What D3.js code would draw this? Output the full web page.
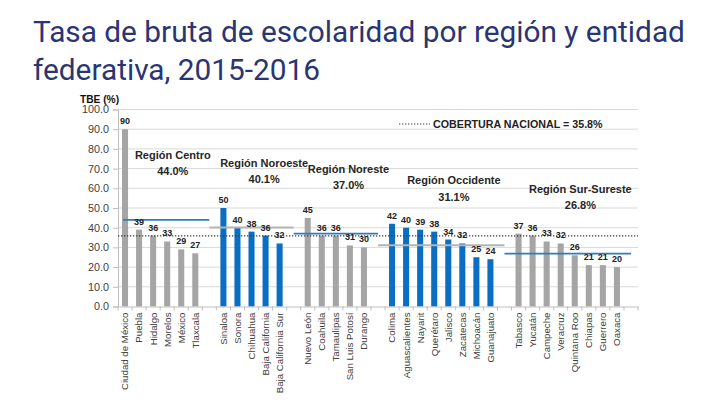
<!DOCTYPE html>
<html>
<head>
<meta charset="utf-8">
<script src="https://cdn.jsdelivr.net/npm/d3@7"></script>
<style>
  html, body { margin: 0; padding: 0; background: #fff; }
  svg { display: block; }
</style>
</head>
<body>
<svg id="chart" width="720" height="405"></svg>
<script>
// ---------- DATA ----------
const titleLines = ["Tasa de bruta de escolaridad por región y entidad", "federativa, 2015-2016"];
const regionNames = ["Región Centro", "Región Noroeste", "Región Noreste", "Región Occidente", "Región Sur-Sureste"];
const regionAverages = [44.0, 40.1, 37.0, 31.1, 26.8];
const regionStates = [
  ["Ciudad de México", "Puebla", "Hidalgo", "Morelos", "México", "Tlaxcala"],
  ["Sinaloa", "Sonora", "Chihuahua", "Baja California", "Baja California Sur"],
  ["Nuevo León", "Coahuila", "Tamaulipas", "San Luis Potosí", "Durango"],
  ["Colima", "Aguascalientes", "Nayarit", "Querétaro", "Jalisco", "Zacatecas", "Michoacán", "Guanajuato"],
  ["Tabasco", "Yucatán", "Campeche", "Veracruz", "Quintana Roo", "Chiapas", "Guerrero", "Oaxaca"]
];
const regionValues = [
  [90, 39, 36, 33, 29, 27],
  [50, 40, 38, 36, 32],
  [45, 36, 36, 31, 30],
  [42, 40, 39, 38, 34, 32, 25, 24],
  [37, 36, 33, 32, 26, 21, 21, 20]
];
const nationalValue = 35.8;
const nationalLabel = "COBERTURA NACIONAL = 35.8%";
const yTicks = [0, 10, 20, 30, 40, 50, 60, 70, 80, 90, 100];
const yAxisTitle = "TBE (%)";

// ---------- STYLE ----------
const GRAY = "#a5a5a5";
const BLUE = "#0a6fc2";
const LINE_BLUE = "#2f7bc4";
const LINE_GRAY = "#b4b4b4";
const barColors = [GRAY, BLUE, GRAY, BLUE, GRAY];
const avgColors = [LINE_BLUE, LINE_GRAY, LINE_BLUE, LINE_GRAY, LINE_BLUE];

const svg = d3.select("#chart");

// Title
svg.append("g").selectAll("text").data(titleLines).join("text")
  .attr("x", 33)
  .attr("y", (d, i) => 42 + i * 38)
  .attr("font-family", "Roboto, sans-serif")
  .attr("font-size", 29.8)
  .attr("fill", "#2a3573")
  .text(d => d);

// Build slots (with gap slots between regions and one trailing)
const slots = [];
const bars = [];
regionStates.forEach((states, r) => {
  states.forEach((s, i) => {
    slots.push(s);
    bars.push({ name: s, value: regionValues[r][i], region: r });
  });
  slots.push("__gap" + r);
});

const plotLeft = 118, plotRight = 638, plotTop = 109.5, plotBottom = 306.5;
const x = d3.scaleBand().domain(slots).range([plotLeft, plotRight]).paddingInner(0.57).paddingOuter(0.285);
const step = x.step();
const y = d3.scaleLinear().domain([0, 100]).range([plotBottom, plotTop]);
const cx = name => x(name) + x.bandwidth() / 2;

const font = "'Liberation Sans', Arial, sans-serif";

// Gridlines
svg.append("g").selectAll("line").data(yTicks.filter(t => t > 0)).join("line")
  .attr("x1", plotLeft).attr("x2", plotRight)
  .attr("y1", d => y(d)).attr("y2", d => y(d))
  .attr("stroke", "#d9d9d9").attr("stroke-width", 1);

// Y axis
const yAxis = d3.axisLeft(y).tickValues(yTicks).tickFormat(d3.format(".1f")).tickSize(5).tickPadding(4);
const gy = svg.append("g").attr("transform", `translate(${plotLeft},0)`).call(yAxis);
gy.select(".domain").attr("stroke", "#bfbfbf");
gy.selectAll(".tick line").attr("stroke", "#bfbfbf");
gy.selectAll(".tick text").attr("font-family", font).attr("font-size", 10.8).attr("fill", "#404040");

svg.append("text")
  .attr("x", 80).attr("y", 102.5)
  .attr("font-family", font).attr("font-size", 10.2).attr("font-weight", "bold").attr("fill", "#111")
  .text(yAxisTitle);

// Bars
svg.append("g").selectAll("rect").data(bars).join("rect")
  .attr("x", d => x(d.name))
  .attr("width", x.bandwidth())
  .attr("y", d => y(d.value))
  .attr("height", d => y(0) - y(d.value))
  .attr("fill", d => barColors[d.region]);

// X axis
const xAxis = d3.axisBottom(x).tickSize(0).tickFormat(d => d.startsWith("__gap") ? "" : d);
const gx = svg.append("g").attr("transform", `translate(0,${plotBottom})`).call(xAxis);
gx.select(".domain").attr("stroke", "#bfbfbf");
gx.selectAll(".tick text")
  .attr("font-family", font).attr("font-size", 9.7).attr("fill", "#404040")
  .attr("text-anchor", "end")
  .attr("transform", "rotate(-90)")
  .attr("x", -6).attr("y", 0).attr("dy", "0.35em");
// boundary tick marks between slots
svg.append("g").selectAll("line").data(d3.range(slots.length + 1)).join("line")
  .attr("x1", i => plotLeft + i * step).attr("x2", i => plotLeft + i * step)
  .attr("y1", plotBottom).attr("y2", plotBottom + 4)
  .attr("stroke", "#bfbfbf");

// National dotted line
svg.append("line")
  .attr("x1", plotLeft).attr("x2", plotRight)
  .attr("y1", y(nationalValue)).attr("y2", y(nationalValue))
  .attr("stroke", "#3a3a3a").attr("stroke-width", 1.2).attr("stroke-dasharray", "1.3,1.7");

// Region average lines & labels
regionStates.forEach((states, r) => {
  const first = states[0], last = states[states.length - 1];
  const x1 = Math.max(plotLeft + 5, x(first) - x.paddingOuter() * step - step / 2);
  const x2 = x(last) + x.bandwidth() + x.paddingOuter() * step + step / 2;
  svg.append("line")
    .attr("x1", x1).attr("x2", x2)
    .attr("y1", y(regionAverages[r])).attr("y2", y(regionAverages[r]))
    .attr("stroke", avgColors[r]).attr("stroke-width", 1.8);
  const mid = (cx(first) + cx(last)) / 2 + step * 0.9;
  svg.append("text")
    .attr("x", mid).attr("y", y(regionAverages[r]) - 61)
    .attr("text-anchor", "middle")
    .attr("font-family", font).attr("font-size", 11).attr("font-weight", "bold").attr("fill", "#262626")
    .text(regionNames[r]);
  svg.append("text")
    .attr("x", mid).attr("y", y(regionAverages[r]) - 44.5)
    .attr("text-anchor", "middle")
    .attr("font-family", font).attr("font-size", 11).attr("font-weight", "bold").attr("fill", "#262626")
    .text(d3.format(".1f")(regionAverages[r]) + "%");
});

// Value labels
svg.append("g").selectAll("text").data(bars).join("text")
  .attr("x", d => cx(d.name))
  .attr("y", d => y(d.value) - 5)
  .attr("text-anchor", "middle")
  .attr("font-family", font).attr("font-size", 9).attr("font-weight", "bold").attr("fill", "#222")
  .text(d => d.value);

// Legend
svg.append("line")
  .attr("x1", 399).attr("x2", 430).attr("y1", 124).attr("y2", 124)
  .attr("stroke", "#3a3a3a").attr("stroke-width", 1.2).attr("stroke-dasharray", "1.3,1.7");
svg.append("text")
  .attr("x", 433).attr("y", 128)
  .attr("font-family", font).attr("font-size", 10.7).attr("font-weight", "bold").attr("fill", "#222")
  .text(nationalLabel);
</script>
</body>
</html>
